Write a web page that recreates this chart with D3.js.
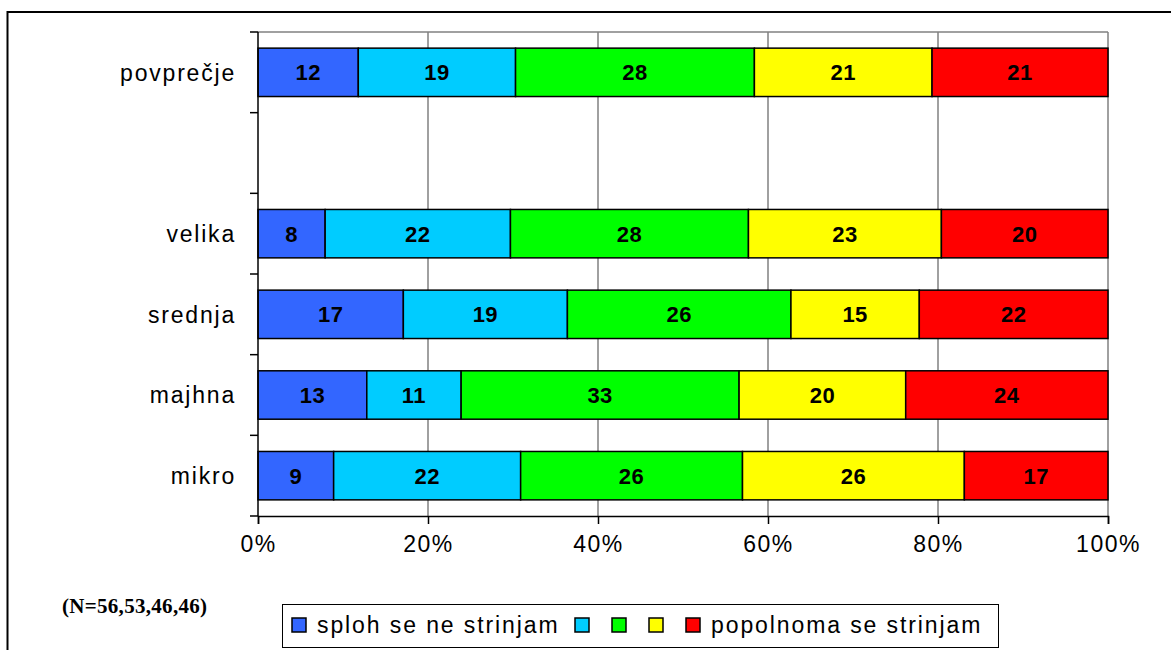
<!DOCTYPE html>
<html>
<head>
<meta charset="utf-8">
<script src="https://cdn.jsdelivr.net/npm/d3@7"></script>
<style>
  body { margin: 0; background: #fff; }
  svg { display: block; font-family: "Liberation Sans", Arial, sans-serif; }
</style>
</head>
<body>
<script>
const width = 1171;
const height = 650;

// rows top to bottom; the empty row is a spacer between average and groups
const categories = ["povprečje", "", "velika", "srednja", "majhna", "mikro"];
const seriesNames = ["sploh se ne strinjam", "", "", "", "popolnoma se strinjam"];
const seriesColors = ["#3366FF", "#00CCFF", "#00FF00", "#FFFF00", "#FF0000"];

// shares (percent), labels are the printed rounded values
const s1 = [11.8, null, 7.9, 17.1, 12.8, 8.9];
const s2 = [18.5, null, 21.8, 19.3, 11.1, 22.0];
const s3 = [28.1, null, 28.0, 26.3, 32.7, 26.1];
const s4 = [20.9, null, 22.7, 15.1, 19.6, 26.1];
const s5 = [20.7, null, 19.6, 22.2, 23.8, 16.9];
const l1 = [12, null, 8, 17, 13, 9];
const l2 = [19, null, 22, 19, 11, 22];
const l3 = [28, null, 28, 26, 33, 26];
const l4 = [21, null, 23, 15, 20, 26];
const l5 = [21, null, 20, 22, 24, 17];
const xTicks = [0, 20, 40, 60, 80, 100];
const note = "(N=56,53,46,46)";

const series = [s1, s2, s3, s4, s5];
const labels = [l1, l2, l3, l4, l5];

const margin = { left: 258, right: 1108, top: 32, bottom: 516 };

const svg = d3.select("body").append("svg")
  .attr("width", width)
  .attr("height", height);

// outer chart frame (runs off the right and bottom edge)
svg.append("rect")
  .attr("x", 7.5)
  .attr("y", 12)
  .attr("width", width + 10)
  .attr("height", height + 10)
  .attr("fill", "none")
  .attr("stroke", "#000")
  .attr("stroke-width", 2);

const x = d3.scaleLinear().domain([0, 100]).range([margin.left, margin.right]);
const y = d3.scaleBand()
  .domain(d3.range(categories.length))
  .range([margin.top, margin.bottom])
  .paddingInner(0.4)
  .paddingOuter(0.2);

// grid lines + top border in gray
svg.append("g")
  .selectAll("line")
  .data(xTicks.slice(1))
  .enter()
  .append("line")
  .attr("x1", (d) => x(d))
  .attr("x2", (d) => x(d))
  .attr("y1", margin.top)
  .attr("y2", margin.bottom)
  .attr("stroke", "#808080")
  .attr("stroke-width", 1.5);

svg.append("line")
  .attr("x1", margin.left)
  .attr("x2", margin.right)
  .attr("y1", margin.top)
  .attr("y2", margin.top)
  .attr("stroke", "#808080")
  .attr("stroke-width", 1.5);

// stacked bars
const rows = categories.map((c, i) => {
  let acc = 0;
  return series.map((s, k) => {
    if (s[i] == null) return null;
    const seg = { row: i, k: k, x0: acc, x1: acc + s[i], label: labels[k][i] };
    acc += s[i];
    return seg;
  }).filter((d) => d);
});
const segs = rows.flat();

const bars = svg.append("g");
bars.selectAll("rect")
  .data(segs)
  .enter()
  .append("rect")
  .attr("x", (d) => x(d.x0))
  .attr("y", (d) => y(d.row))
  .attr("width", (d) => x(d.x1) - x(d.x0))
  .attr("height", y.bandwidth())
  .attr("fill", (d) => seriesColors[d.k])
  .attr("stroke", "#000")
  .attr("stroke-width", 1.5);

bars.selectAll("text")
  .data(segs)
  .enter()
  .append("text")
  .attr("x", (d) => (x(d.x0) + x(d.x1)) / 2)
  .attr("y", (d) => y(d.row) + y.bandwidth() / 2)
  .attr("dy", "0.36em")
  .attr("text-anchor", "middle")
  .attr("font-size", "22px")
  .attr("font-weight", "bold")
  .attr("letter-spacing", "0.5px")
  .attr("fill", "#000")
  .text((d) => d.label);

// left axis with ticks between categories
const yBounds = d3.range(categories.length + 1).map((i) => margin.top + i * y.step());
svg.append("line")
  .attr("x1", margin.left)
  .attr("x2", margin.left)
  .attr("y1", margin.top)
  .attr("y2", margin.bottom)
  .attr("stroke", "#000")
  .attr("stroke-width", 1.5);
svg.append("g")
  .selectAll("line")
  .data(yBounds)
  .enter()
  .append("line")
  .attr("x1", margin.left - 8)
  .attr("x2", margin.left)
  .attr("y1", (d) => d)
  .attr("y2", (d) => d)
  .attr("stroke", "#000")
  .attr("stroke-width", 1.5);

svg.append("g")
  .selectAll("text")
  .data(categories)
  .enter()
  .append("text")
  .attr("x", 236)
  .attr("y", (d, i) => y(i) + y.bandwidth() / 2)
  .attr("dy", "0.36em")
  .attr("text-anchor", "end")
  .attr("font-size", "23px")
  .attr("letter-spacing", "1.8px")
  .attr("fill", "#000")
  .text((d) => d);

// bottom axis
const xAxis = svg.append("g")
  .attr("transform", "translate(0," + margin.bottom + ")")
  .call(d3.axisBottom(x).tickValues(xTicks).tickSize(8).tickFormat((d) => d + "%"));
xAxis.select(".domain").attr("stroke", "#000").attr("stroke-width", 1.5);
xAxis.selectAll("line").attr("stroke", "#000").attr("stroke-width", 1.5);
xAxis.selectAll("text")
  .attr("font-family", "Liberation Sans, Arial, sans-serif")
  .attr("font-size", "23px")
  .attr("letter-spacing", "1.5px")
  .attr("fill", "#000")
  .attr("y", 20)
  .attr("dy", "0.71em");

// note
svg.append("text")
  .attr("x", 62)
  .attr("y", 613)
  .attr("font-family", "Liberation Serif, Times New Roman, serif")
  .attr("font-weight", "bold")
  .attr("font-size", "21px")
  .attr("letter-spacing", "0.3px")
  .attr("fill", "#000")
  .text(note);

// legend
const legend = svg.append("g");
legend.append("rect")
  .attr("x", 282.5)
  .attr("y", 604.5)
  .attr("width", 716)
  .attr("height", 43)
  .attr("fill", "#fff")
  .attr("stroke", "#000")
  .attr("stroke-width", 1);

const legendX = [292, 575, 612, 649, 686];
const items = legend.selectAll("g")
  .data(seriesNames)
  .enter()
  .append("g")
  .attr("transform", (d, i) => "translate(" + legendX[i] + ",618)");
items.append("rect")
  .attr("width", 14)
  .attr("height", 14)
  .attr("fill", (d, i) => seriesColors[i])
  .attr("stroke", "#000")
  .attr("stroke-width", 1.5);
items.append("text")
  .attr("x", 25)
  .attr("y", 15)
  .attr("font-size", "23px")
  .attr("letter-spacing", "1.9px")
  .attr("fill", "#000")
  .text((d) => d);
</script>
</body>
</html>
